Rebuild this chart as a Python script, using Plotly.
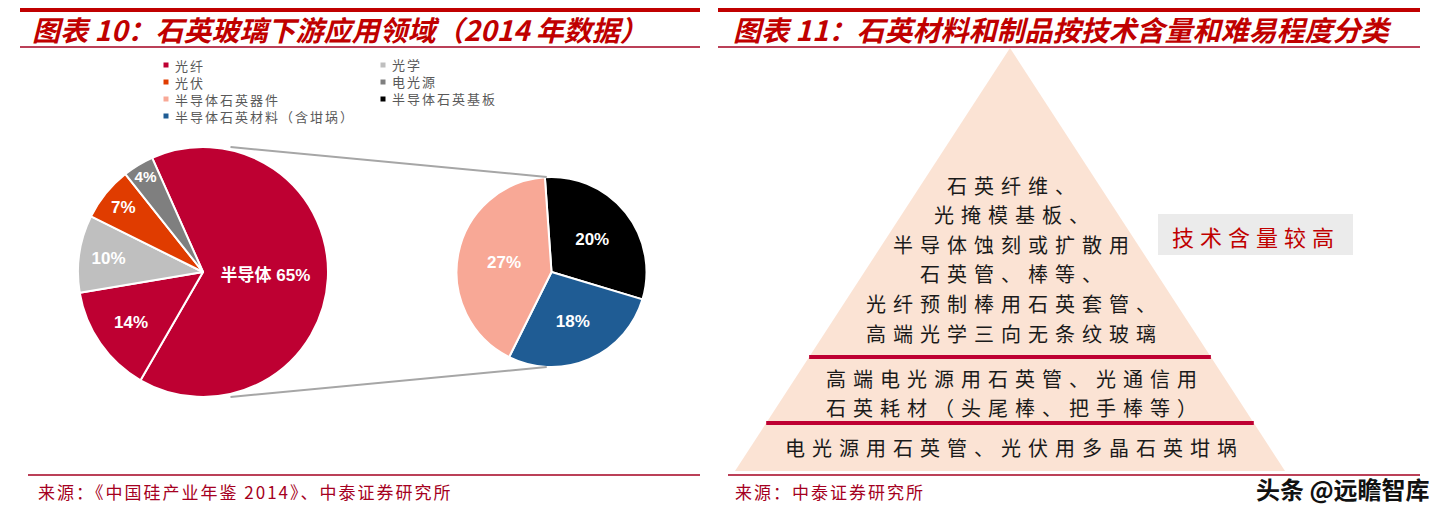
import plotly.graph_objects as go

W, H = 1446, 510

# ---------------- data ----------------
main_labels = ["半导体", "光纤", "光学", "光伏", "电光源"]
main_values = [65, 14, 10, 7, 4]
main_text = ["半导体 65%", "14%", "10%", "7%", "4%"]
main_colors = ["#BE0032", "#BE0032", "#BFBFBF", "#E03C00", "#7F7F7F"]

sub_labels = ["半导体石英基板", "半导体石英材料（含坩埚）", "半导体石英器件"]
sub_values = [20, 18, 27]
sub_text = ["20%", "18%", "27%"]
sub_colors = ["#000000", "#1F5C94", "#F8A896"]

legend_labels = ["光纤", "光学", "光伏", "电光源",
                 "半导体石英器件", "半导体石英基板", "半导体石英材料（含坩埚）"]
legend_colors = ["#BE0032", "#BFBFBF", "#E03C00", "#7F7F7F",
                 "#F8A896", "#000000", "#1F5C94"]

title_left = "图表 10：石英玻璃下游应用领域（2014 年数据）"
title_right = "图表 11：石英材料和制品按技术含量和难易程度分类"
source_left = "来源：《中国硅产业年鉴 2014》、中泰证券研究所"
source_right = "来源：中泰证券研究所"
watermark = "头条 @远瞻智库"

tier_top = ["石英纤维、", "光掩模基板、", "半导体蚀刻或扩散用",
            "石英管、棒等、", "光纤预制棒用石英套管、", "高端光学三向无条纹玻璃"]
tier_mid = ["高端电光源用石英管、光通信用", "石英耗材（头尾棒、把手棒等）"]
tier_bot = ["电光源用石英管、光伏用多晶石英坩埚"]
tag_text = "技术含量较高"

# ---------------- helpers ----------------
def X(p):
    return p / W

def Y(p):
    return 1 - p / H

def spaced(t, px):
    return f'<span style="letter-spacing:{px}px">{t}</span>'

RED = "#C00000"
CJK = "Noto Sans CJK SC"
LAT = "Liberation Sans, Arial, " + CJK

# pie geometry (pixels)
c1x, c1y, r1 = 203, 272, 125
c2x, c2y, r2 = 551.5, 272, 95

fig = go.Figure()

fig.add_trace(go.Pie(
    labels=main_labels, values=main_values, text=main_text,
    texttemplate="%{text}", textposition="inside",
    insidetextorientation="horizontal", sort=False,
    direction="clockwise", rotation=-24,
    marker=dict(colors=main_colors, line=dict(color="white", width=2)),
    textfont=dict(color="white", size=17, family=LAT, weight="bold"),
    domain=dict(x=[X(c1x - r1), X(c1x + r1)], y=[Y(c1y + r1), Y(c1y - r1)]),
    showlegend=False, hoverinfo="skip",
))

fig.add_trace(go.Pie(
    labels=sub_labels, values=sub_values, text=sub_text,
    texttemplate="%{text}", textposition="inside",
    insidetextorientation="horizontal", sort=False,
    direction="clockwise", rotation=-4,
    marker=dict(colors=sub_colors, line=dict(color="white", width=2)),
    textfont=dict(color="white", size=17, family=LAT, weight="bold"),
    domain=dict(x=[X(c2x - r2), X(c2x + r2)], y=[Y(c2y + r2), Y(c2y - r2)]),
    showlegend=False, hoverinfo="skip",
))

shapes = []
ann = []

def hline(x0, x1, y, color, width):
    shapes.append(dict(type="line", xref="paper", yref="paper",
                       x0=X(x0), x1=X(x1), y0=Y(y), y1=Y(y),
                       line=dict(color=color, width=width)))

# panel rules
for (a, b) in [(20, 700), (718, 1420)]:
    hline(a, b, 10, RED, 4)
    hline(a, b, 47, "#A50021", 1.5)
hline(28, 700, 475, "#A50021", 1.5)
hline(728, 1420, 475, "#A50021", 1.5)

# titles and sources
ann.append(dict(text=title_left, x=X(30), y=Y(29), xanchor="left", yanchor="middle",
                font=dict(family=CJK, size=28, color=RED, weight="bold", style="italic")))
ann.append(dict(text=title_right, x=X(731), y=Y(29), xanchor="left", yanchor="middle",
                font=dict(family=CJK, size=28, color=RED, weight="bold", style="italic")))
ann.append(dict(text=spaced(source_left, 2), x=X(36), y=Y(491), xanchor="left", yanchor="middle",
                font=dict(family=CJK, size=17, color="#A50021")))
ann.append(dict(text=spaced(source_right, 2), x=X(733), y=Y(491), xanchor="left", yanchor="middle",
                font=dict(family=CJK, size=17, color="#A50021")))

# connector lines (pie-of-pie)
for sgn in (-1, 1):
    shapes.append(dict(type="line", xref="paper", yref="paper",
                       x0=X(c1x + 0.22 * r1), y0=Y(c1y + sgn * r1),
                       x1=X(c2x - 0.05 * r2), y1=Y(c2y + sgn * r2),
                       line=dict(color="#A6A6A6", width=2)))

# legend (two columns, row-major); one multi-line text block per column
col_x = [166, 383]
row0, row_step = 65, 17
for c in range(2):
    items = [(lab, col) for i, (lab, col) in enumerate(zip(legend_labels, legend_colors)) if i % 2 == c]
    for r, (lab, col) in enumerate(items):
        cy = row0 + r * row_step
        shapes.append(dict(type="rect", xref="paper", yref="paper",
                           x0=X(col_x[c] - 2.5), x1=X(col_x[c] + 2.5),
                           y0=Y(cy + 2.5), y1=Y(cy - 2.5),
                           fillcolor=col, line=dict(width=0)))
    txt = "<br>".join(spaced(lab, 2) for lab, _ in items)
    ymid = row0 + (len(items) - 1) * row_step / 2
    ann.append(dict(text=txt, x=X(col_x[c] + 7), y=Y(ymid), xanchor="left", yanchor="middle",
                    align="left", font=dict(family=CJK, size=13, color="#595959")))

# pyramid
apex_x, apex_y, base_y, half_base = 1010, 48, 471, 275
shapes.append(dict(type="path", xref="paper", yref="paper",
                   path=f"M {X(apex_x - half_base)},{Y(base_y)} L {X(apex_x)},{Y(apex_y)} "
                        f"L {X(apex_x + half_base)},{Y(base_y)} Z",
                   fillcolor="#FBE3D4", line=dict(width=0), layer="below"))

def half_at(y):
    return half_base * (y - apex_y) / (base_y - apex_y)

for y in (357, 423):
    hw = half_at(y)
    hline(apex_x - hw, apex_x + hw, y, "#BE0032", 4)

def tier(lines, y0, step):
    for k, t in enumerate(lines):
        ann.append(dict(text=spaced(t, 7), x=X(apex_x + 5), y=Y(y0 + k * step),
                        xanchor="center", yanchor="middle",
                        font=dict(family=CJK, size=20, color="#1A1A1A")))

tier(tier_top, 185, 29.6)
tier(tier_mid, 378, 29)
tier(tier_bot, 447, 0)

# tag box
shapes.append(dict(type="rect", xref="paper", yref="paper",
                   x0=X(1158), x1=X(1353), y0=Y(255), y1=Y(214),
                   fillcolor="#EBEBEB", line=dict(width=0)))
ann.append(dict(text=spaced(tag_text, 6), x=X(1256), y=Y(236), xanchor="center", yanchor="middle",
                font=dict(family=CJK, size=22, color=RED)))

# watermark
ann.append(dict(text=watermark, x=X(1432), y=Y(488), xanchor="right", yanchor="middle",
                font=dict(family=CJK, size=24, color="#111111", weight="bold")))

for a in ann:
    a.update(xref="paper", yref="paper", showarrow=False)

fig.update_layout(
    width=W, height=H, margin=dict(l=0, r=0, t=0, b=0),
    paper_bgcolor="white", plot_bgcolor="white",
    shapes=shapes, annotations=ann, showlegend=False,
)

fig.write_html("out.html", config={"displayModeBar": False},
               post_script="document.body.style.margin='0';document.body.style.padding='0';")
